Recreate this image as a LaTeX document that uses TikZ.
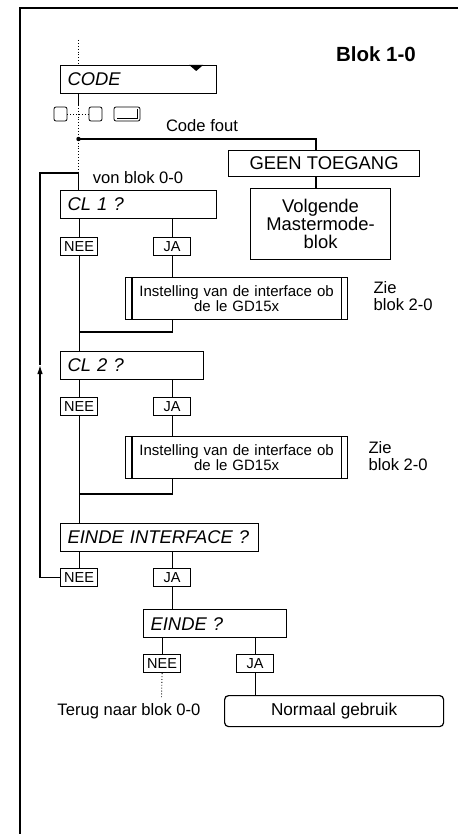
\documentclass[tikz,border=0pt]{standalone}
\usepackage{fontspec}
\setmainfont{Liberation Sans}
\usetikzlibrary{calc,arrows.meta}

\newcommand\boxtxt{\fontsize{18.4}{18}\selectfont}
\newcommand\notetxt{\fontsize{16.6}{17}\selectfont}
\newcommand\yntxt{\fontsize{14.5}{15}\selectfont}
\newcommand\insttxt{\fontsize{15}{15}\selectfont}
\newcommand\titletxt{\fontsize{20.5}{22}\selectfont\bfseries}

\begin{document}
\begin{tikzpicture}[x=1pt, y=-1pt, line width=1.2pt,
	qbox/.style={draw, anchor=north west, minimum height=28pt, inner xsep=7pt, inner ysep=0pt, text width=#1, align=left, font=\boxtxt\itshape},
	plain/.style={draw, anchor=north west, align=center, inner sep=0pt, font=\boxtxt},
	yn/.style={draw, anchor=north west, minimum width=37pt, minimum height=18pt, inner sep=0pt, font=\yntxt},
	inst/.style={draw, anchor=north west, minimum width=222pt, minimum height=42pt, inner sep=0pt, text width=200pt, align=center, font=\insttxt},
	key/.style={draw, rounded corners=2pt, minimum height=14pt, inner sep=0pt, line width=0.8pt},
	note/.style={font=\notetxt, anchor=base},
	zie/.style={font=\notetxt, anchor=north west, align=left, inner sep=0pt}]
		\useasboundingbox (0,0) rectangle (458,834);
		% frame and title
		\draw[line width=1.8pt] (458,8) -- (20,8) -- (20,834);
		\node[font=\titletxt, anchor=base] (title) at (376,61.5) {Blok 1-0};
		% spine points
		\coordinate (top) at (78.5,40);
		\coordinate (b1) at (78.5,105);
		\coordinate (j) at (78.5,139);
		\coordinate (loop) at (78.5,173);
		\coordinate (gx) at (316,139);
		\coordinate (ret) at (40,365);
		\coordinate (m1) at (78.5,332);
		\coordinate (m2) at (78.5,494);
		\coordinate (tend) at (161.5,697);
		% code entry
		\node[qbox=142pt] (code) at (60,65) {CODE};
		\fill ($(code.north east)+(-28,0)$) -- ++(14,0) -- ++(-7,6) -- cycle;
		\node[key, minimum width=13pt] (k1) at (60.5,114) {};
		\node[key, minimum width=13pt] (k2) at (95.5,114) {};
		\node[key, minimum width=26pt] (ent) at (127,114) {};
		\draw[line width=0.8pt] ($(ent.north east)+(-3,2.5)$) -- ($(ent.south east)+(-3,-3)$) -- ($(ent.south west)+(3,-3)$);
		\draw[dotted, line width=0.9pt] (k1) -- (k2);
		% wrong code
		\node[note] (fout) at (202,132) {Code fout};
		\node[plain, minimum width=191pt, minimum height=26pt] (geen) at (228,150) {GEEN TOEGANG};
		\node[plain, minimum width=140pt, minimum height=71pt, text width=130pt] (volg) at (250,188) {Volgende\\Mastermode-\\blok};
		% CL 1
		\node[note] (von) at (138,184) {von blok 0-0};
		\node[qbox=142pt] (cl1) at (60,190) {CL 1 ?};
		\node[yn] (nee1) at (60,237) {NEE};
		\node[yn] (ja1) at (153,237) {JA};
		\node[inst] (inst1) at (125,277) {Instelling van de interface ob\\de le GD15x};
		\node[zie] (zie1) at (373,281) {Zie\\blok 2-0};
		% CL 2
		\node[qbox=129pt] (cl2) at (60,351) {CL 2 ?};
		\node[yn] (nee2) at (60,397) {NEE};
		\node[yn] (ja2) at (153,397) {JA};
		\node[inst] (inst2) at (125,436) {Instelling van de interface ob\\de le GD15x};
		\node[zie] (zie2) at (368,441) {Zie\\blok 2-0};
		% einde interface
		\node[qbox=184pt] (eif) at (60,523) {EINDE INTERFACE ?};
		\node[yn] (nee3) at (60,568) {NEE};
		\node[yn] (ja3) at (153,568) {JA};
		% einde
		\node[qbox=129pt] (einde) at (143,609) {EINDE ?};
		\node[yn] (nee4) at (143,654) {NEE};
		\node[yn] (ja4) at (236,654) {JA};
		\node[note] (terug) at (129,715) {Terug naar blok 0-0};
		\node[plain, rounded corners=4pt, minimum width=219pt, minimum height=31pt, font=\fontsize{17.2}{18}\selectfont] (normaal) at (224,695) {Normaal gebruik};
		\foreach \b in {inst1,inst2} {
			\draw ($(\b.north west)+(7,0)$) -- ($(\b.south west)+(7,0)$);
			\draw ($(\b.north east)+(-7,0)$) -- ($(\b.south east)+(-7,0)$);
		}
		% connectors
		\draw[dotted, line width=0.9pt] (top) -- (top |- code.north);
		\draw (code.south -| top) -- (b1);
		\draw[dotted, line width=0.9pt] (b1) -- (j) -- (loop);
		\fill (j) circle (2.2);
		\draw (j) -- (gx) -- (gx |- geen.north);
		\draw (gx |- geen.south) -- (gx |- volg.north);
		\draw (loop) -- (loop |- cl1.north);
		\draw (cl1.south -| nee1.north) -- (nee1.north);
		\draw (cl1.south -| ja1.north) -- (ja1.north);
		\draw (ja1.south) -- (ja1.south |- inst1.north);
		\draw (nee1.south) -- (nee1.south |- cl2.north);
		\draw (inst1.south -| ja1.south) |- (m1);
		\draw (cl2.south -| nee2.north) -- (nee2.north);
		\draw (cl2.south -| ja2.north) -- (ja2.north);
		\draw (ja2.south) -- (ja2.south |- inst2.north);
		\draw (nee2.south) -- (nee2.south |- eif.north);
		\draw (inst2.south -| ja2.south) |- (m2);
		\draw (eif.south -| nee3.north) -- (nee3.north);
		\draw (eif.south -| ja3.north) -- (ja3.north);
		\draw (ja3.south) -- (ja3.south |- einde.north);
		\draw[-{Latex[length=9pt,width=5.5pt]}] (nee3.west) -| (ret);
		\draw (ret) |- (loop);
		\draw (einde.south -| nee4.north) -- (nee4.north);
		\draw (einde.south -| ja4.north) -- (ja4.north);
		\draw[dotted, line width=0.9pt] (nee4.south) -- (tend);
		\draw (ja4.south) -- (ja4.south |- normaal.north);
\end{tikzpicture}
\end{document}
